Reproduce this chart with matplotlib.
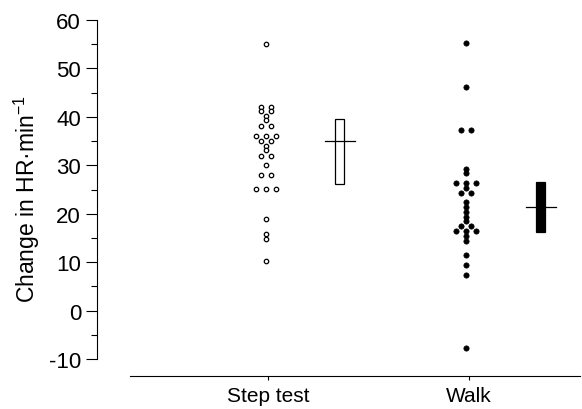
import numpy as np
import matplotlib.pyplot as plt

plt.rcParams['font.family'] = ['Liberation Sans', 'DejaVu Sans']
plt.rcParams['mathtext.default'] = 'regular'
plt.rcParams['axes.unicode_minus'] = False

# change in heart rate
step_test = [55.1, 42.0, 42.0, 41.2, 41.2, 40.2, 39.3, 38.1, 38.1,
             36.0, 36.0, 36.0, 35.0, 35.0, 34.0, 33.1, 32.0, 32.0,
             30.1, 28.0, 28.0, 25.1, 25.1, 25.1, 18.9, 15.8, 14.8, 10.2]
walk = [55.2, 46.2, 37.3, 37.3, 29.3, 28.4, 26.3, 26.3, 26.3, 25.3,
        24.3, 24.3, 22.4, 21.4, 20.3, 19.3, 18.4, 17.4, 17.4,
        16.4, 16.4, 16.4, 15.4, 14.3, 11.4, 9.4, 7.4, -7.7]

groups = ['Step test', 'Walk']
# median and interquartile box
box_mid = [35.0, 21.4]
box_low = [26.1, 16.2]
box_high = [39.5, 26.5]

fig = plt.figure(figsize=(5.82, 4.10), dpi=100)
ax = fig.add_axes([97/582, 33/410, 483/582, 356/410])


def spread(vals, spacing=0.05):
    # put equal values side by side, centred
    offs = np.zeros(len(vals))
    vals = np.array(vals)
    for v in np.unique(vals):
        idx = np.where(vals == v)[0]
        n = len(idx)
        offs[idx] = (np.arange(n) - (n - 1) / 2) * spacing
    return offs


xpos = [1, 2]
ax.plot(xpos[0] - 0.012 + spread(step_test), step_test, 'o', ms=3.2,
        mfc='white', mec='black', mew=0.9, ls='none')
ax.plot(xpos[1] - 0.015 + spread(walk), walk, 'o', ms=3.8,
        mfc='black', mec='black', mew=0.5, ls='none')

fills = ['white', 'black']
for i in range(2):
    bx = xpos[i] + 0.357
    ax.bar(bx, box_high[i] - box_low[i], bottom=box_low[i], width=0.047,
           color=fills[i], edgecolor='black', linewidth=0.9, zorder=2)
    ax.plot([bx - 0.075, bx + 0.075], [box_mid[i], box_mid[i]],
            color='black', lw=0.9, zorder=3)

ax.set_xlim(1 - 171/201, 2 + 111/201)
ax.set_ylim(-13.5, 60)
ax.set_xticks(xpos)
ax.set_xticklabels(groups, fontsize=15)
ax.set_yticks(np.arange(-10, 61, 10))
ax.set_yticks(np.arange(-5, 60, 10), minor=True)
ax.tick_params(axis='y', labelsize=16, length=8, width=0.8, pad=3.5)
ax.tick_params(axis='y', which='minor', length=4, width=0.8)
ax.tick_params(axis='x', length=3, width=0.8, pad=4.5)

ax.spines['top'].set_visible(False)
ax.spines['right'].set_visible(False)
ax.spines['left'].set_bounds(-10, 60)
ax.spines['bottom'].set_bounds(1 - 138/201, 2 + 111/201)
ax.spines['left'].set_linewidth(0.8)
ax.spines['bottom'].set_linewidth(0.8)

ax.set_ylabel('Change in HR·min$^{-1}$', fontsize=16.5, labelpad=5)

fig.savefig('out.png', dpi=100)
